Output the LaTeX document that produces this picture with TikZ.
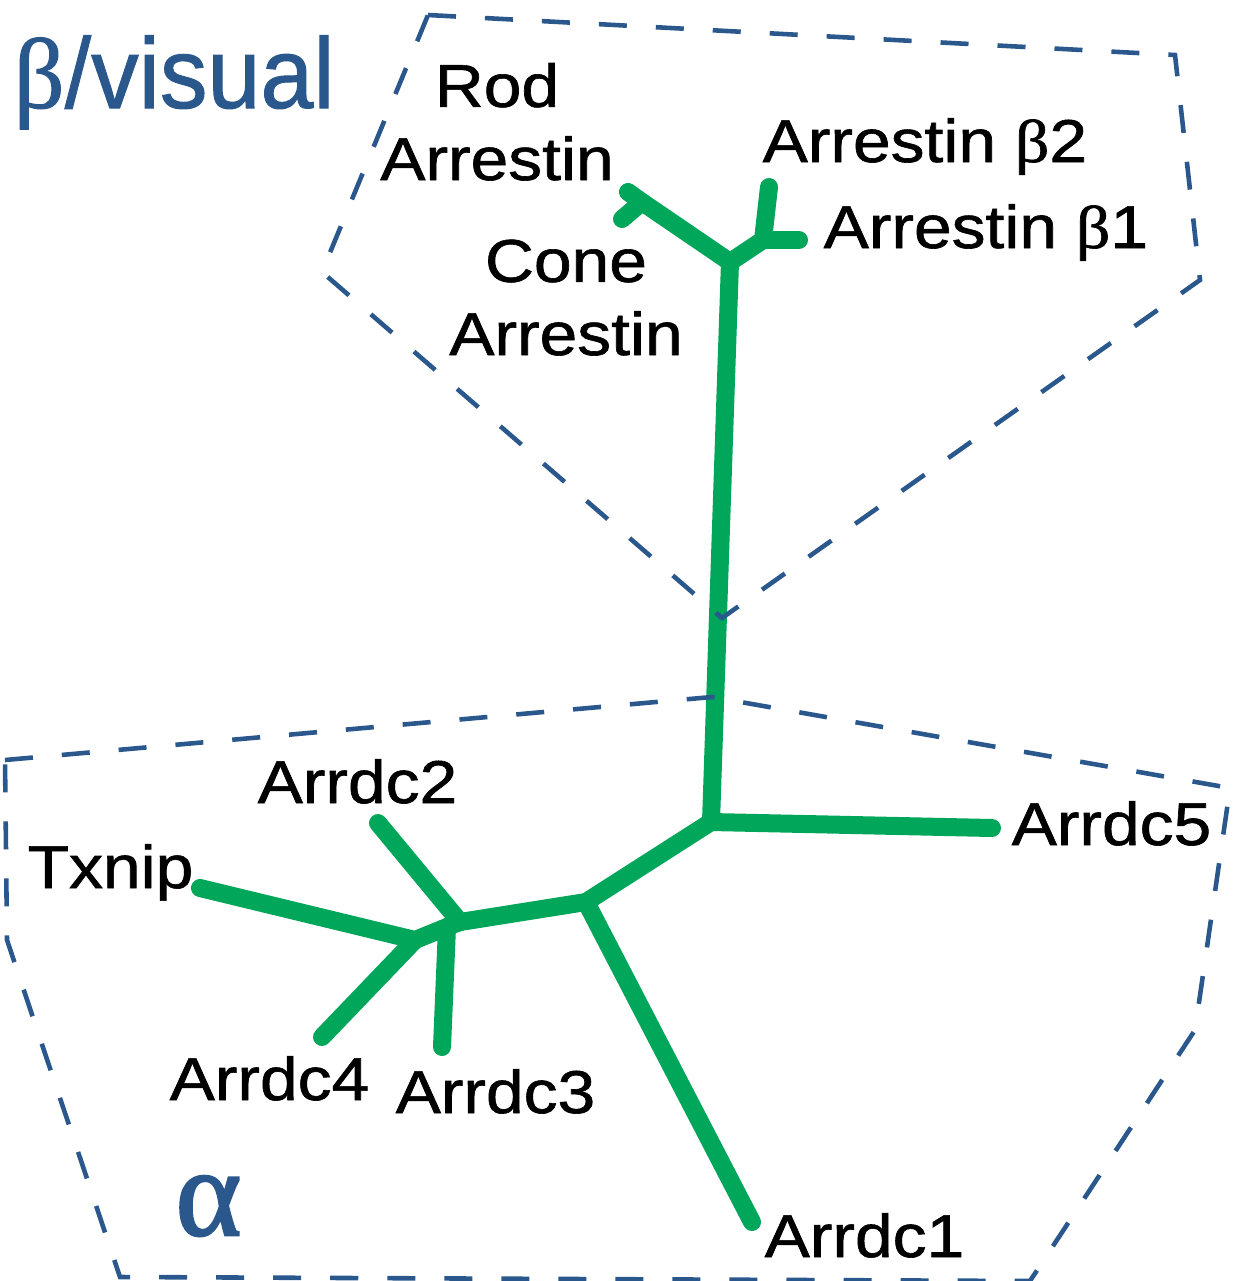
\documentclass[tikz,border=0pt]{standalone}
\usepackage{fontspec}
\usepackage{graphicx}
\setmainfont{Liberation Sans}[FakeBold=1.0]
\newfontfamily\greekserif{Liberation Serif}[FakeBold=1.0]
\newfontfamily\titlegreek{Liberation Serif}[FakeBold=2.0]
\definecolor{treegreen}{RGB}{0,166,90}
\definecolor{groupblue}{RGB}{42,88,140}
% leaf labels are set slightly wide
\newcommand{\wide}[1]{\scalebox{1.12}[1]{#1}}
\tikzset{
  leaf/.style={anchor=base west, inner sep=0pt, text=black,
    font=\fontsize{17.2}{21.2}\selectfont},
  pairlabel/.style={anchor=base, inner sep=0pt, align=center, text=black,
    font=\fontsize{17.2}{20.8}\selectfont},
  branch/.style={treegreen, line width=0.18cm, line cap=round, line join=round},
  groupline/.style={groupblue, line width=1.3pt, dash pattern=on 0.28cm off 0.29cm},
  grouptitle/.style={anchor=base west, inner sep=0pt, text=groupblue}
}
\begin{document}
\begin{tikzpicture}[x=0.01cm, y=-0.01cm]
\useasboundingbox (0,0) rectangle (1233,1281);

% tree junctions and leaf tips
\coordinate (j1) at (730,262);
\coordinate (fRC) at (642,202);
\coordinate (tRod) at (628,192);
\coordinate (tCone) at (622,219);
\coordinate (fB) at (763,240);
\coordinate (tB2) at (769,187);
\coordinate (tB1) at (799,240);
\coordinate (j2) at (711,822);
\coordinate (t5) at (992,828);
\coordinate (j3) at (586,902);
\coordinate (t1) at (752,1222);
\coordinate (j4) at (460,922);
\coordinate (j4b) at (447,927);
\coordinate (j5) at (415,940);
\coordinate (t2) at (378,823);
\coordinate (t3) at (442,1047);
\coordinate (tTx) at (200,888);
\coordinate (t4) at (322,1037);

% unrooted tree
\draw[branch] (tRod) -- (fRC) -- (j1) -- (fB) -- (tB2);
\draw[branch] (fRC) -- (tCone);
\draw[branch] (fB) -- (tB1);
\draw[branch] (j1) -- (j2) -- (t5);
\draw[branch] (j2) -- (j3) -- (t1);
\draw[branch] (j3) -- (j4) -- (t2);
\draw[branch] (j4) -- (j4b) -- (j5) -- (tTx);
\draw[branch] (j4b) -- (t3);
\draw[branch] (j5) -- (t4);

% group outlines
\draw[groupline] (428,15) -- (1175,55) -- (1200,280) -- (722,618) -- (322,272) -- cycle;
\draw[groupline] (5,760) -- (712,697) -- (1230,788) -- (1195,1030) -- (1030,1281)
  -- (120,1277) -- (7,940) -- cycle;

% group titles
\node[grouptitle, font=\fontsize{28.5}{30}\selectfont] (gBeta) at (13,108)
  {{\greekserif β}\scalebox{0.95}[1]{/visual}};
\node[grouptitle, font=\fontsize{35.6}{38}\titlegreek] (gAlpha) at (175,1235) {α};

% leaf labels
\node[pairlabel] (lRod) at (497,180) {\wide{Rod}\\\wide{Arrestin}};
\node[pairlabel] (lCone) at (566,355) {\wide{Cone}\\\wide{Arrestin}};
\node[leaf] (lB2) at (762,162) {\wide{Arrestin {\greekserif β}2}};
\node[leaf] (lB1) at (823,248) {\wide{Arrestin {\greekserif β}1}};
\node[leaf] (l2) at (257,803) {\wide{Arrdc2}};
\node[leaf] (lTx) at (27,888) {\wide{Txnip}};
\node[leaf] (l5) at (1011,845) {\wide{Arrdc5}};
\node[leaf] (l4) at (169,1100) {\wide{Arrdc4}};
\node[leaf] (l3) at (395,1113) {\wide{Arrdc3}};
\node[leaf] (l1) at (764,1257) {\wide{Arrdc1}};
\end{tikzpicture}
\end{document}
